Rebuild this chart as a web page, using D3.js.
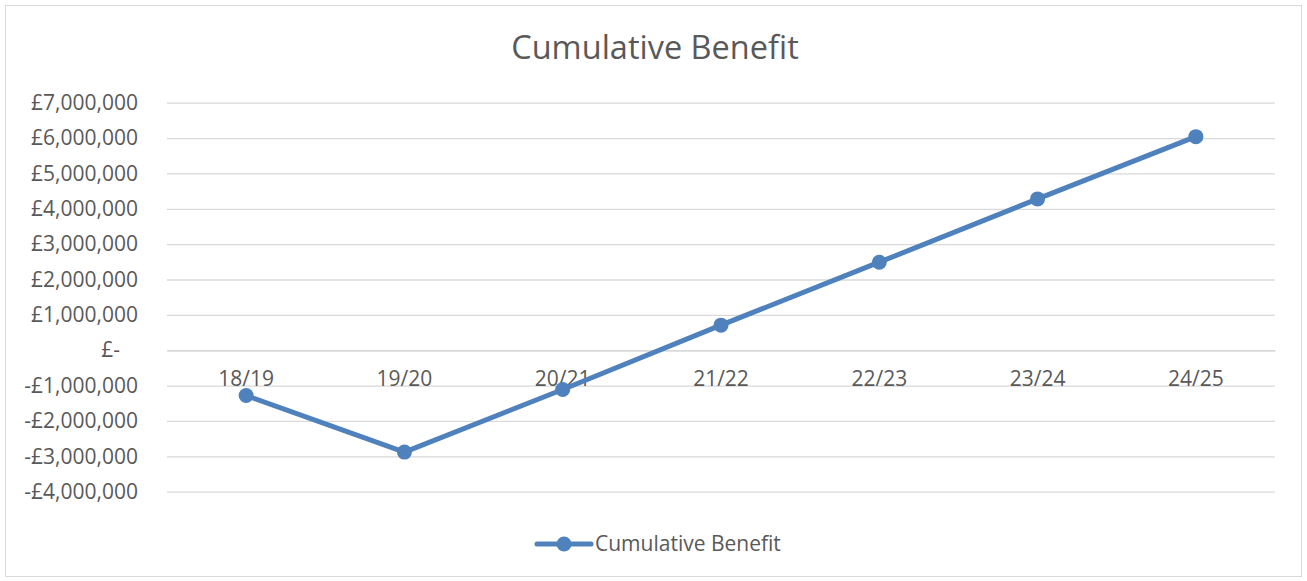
<!DOCTYPE html>
<html><head><meta charset="utf-8">
<script src="https://cdn.jsdelivr.net/npm/d3@7"></script>
<style>body{margin:0;background:#fff}svg{display:block}text{font-family:"Open Sans",sans-serif;fill:#595959}</style>
</head><body><svg id="c" width="1307" height="581"></svg>
<script>
const categories = ["18/19","19/20","20/21","21/22","22/23","23/24","24/25"];
const values = [-1280000,-2880000,-1110000,710000,2490000,4280000,6040000];
const yTicks = [-4000000,-3000000,-2000000,-1000000,0,1000000,2000000,3000000,4000000,5000000,6000000,7000000];
const seriesName = "Cumulative Benefit";
const title = "Cumulative Benefit";

const svg = d3.select("#c");
const W = 1307, H = 581;
svg.append("rect").attr("x",5.5).attr("y",5.5).attr("width",W-11).attr("height",H-10).attr("fill","#fff").attr("stroke","#d9d9d9");

const L = 167, R = 1275;
const x = d3.scaleBand().domain(categories).range([L,R]);
const y = d3.scaleLinear().domain([-4000000,7000000]).range([491.7,102.7]);

svg.append("text").attr("x",655).attr("y",59).attr("text-anchor","middle").style("font-size","32.5px").text(title);

const fmt = v => v===0 ? "£-" : (v<0?"-":"") + "£" + d3.format(",")(Math.abs(v));
const g = svg.append("g").attr("transform",`translate(${L},0)`);
g.call(d3.axisLeft(y).tickValues(yTicks).tickSize(-(R-L)).tickFormat(fmt).tickPadding(29))
 .call(s=>s.select(".domain").remove())
 .call(s=>s.selectAll(".tick line").attr("stroke","#d9d9d9").attr("stroke-width",1.3))
 .call(s=>s.selectAll(".tick text").style("font-size","21px").attr("fill","#595959").style("font-family","'Open Sans',sans-serif"));
g.selectAll(".tick").filter(d=>d===0).select("text").attr("dx","-18");

const xa = svg.append("g").attr("transform",`translate(0,${y(0)})`);
xa.call(d3.axisBottom(x).tickSize(0).tickPadding(21))
 .call(s=>s.select(".domain").attr("stroke","#d9d9d9").attr("stroke-width",1.3))
 .call(s=>s.selectAll(".tick text").style("font-size","21px").attr("fill","#595959").style("font-family","'Open Sans',sans-serif"));

const col = "#4f81bd";
const cx = d => x(d) + x.bandwidth()/2;
svg.append("path").datum(values).attr("fill","none").attr("stroke",col).attr("stroke-width",5).attr("stroke-linejoin","round")
 .attr("d", d3.line().x((d,i)=>cx(categories[i])).y(d=>y(d)));
svg.selectAll("circle.m").data(values).join("circle").attr("class","m")
 .attr("cx",(d,i)=>cx(categories[i])).attr("cy",d=>y(d)).attr("r",7.5).attr("fill",col);

const lg = svg.append("g");
lg.append("line").attr("x1",537).attr("x2",591).attr("y1",544).attr("y2",544).attr("stroke",col).attr("stroke-width",5).attr("stroke-linecap","round");
lg.append("circle").attr("cx",564).attr("cy",544).attr("r",7.5).attr("fill",col);
lg.append("text").attr("x",595).attr("y",551).style("font-size","21px").text(seriesName);
</script></body></html>
